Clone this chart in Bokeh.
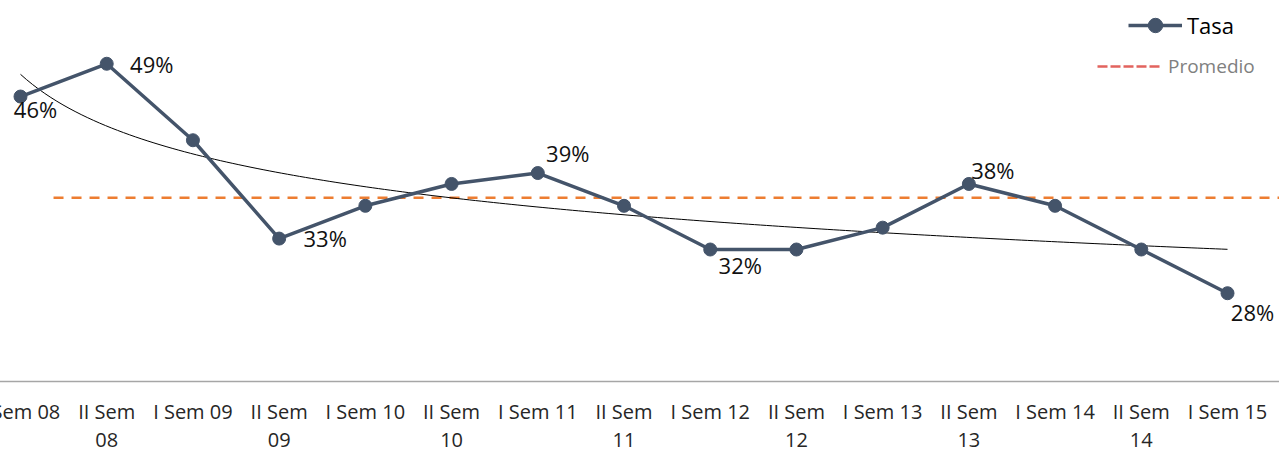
import numpy as np
from bokeh.plotting import figure
from bokeh.core.properties import value
from bokeh.models import (Range1d, FixedTicker, Legend, LegendItem,
                          ColumnDataSource, LabelSet)
from bokeh.embed import file_html
from bokeh.resources import INLINE

# ---------------- data ----------------
categories = ["I Sem 08", "II Sem 08", "I Sem 09", "II Sem 09", "I Sem 10",
              "II Sem 10", "I Sem 11", "II Sem 11", "I Sem 12", "II Sem 12",
              "I Sem 13", "II Sem 13", "I Sem 14", "II Sem 14", "I Sem 15"]
tick_labels = ["I Sem 08", "II Sem\n08", "I Sem 09", "II Sem\n09", "I Sem 10",
               "II Sem\n10", "I Sem 11", "II Sem\n11", "I Sem 12", "II Sem\n12",
               "I Sem 13", "II Sem\n13", "I Sem 14", "II Sem\n14", "I Sem 15"]
tasa = [46, 49, 42, 33, 36, 38, 39, 36, 32, 32, 34, 38, 36, 32, 28]
data_labels = ["46%", "49%", "", "33%", "", "", "39%", "", "32%", "", "",
               "38%", "", "", "28%"]

# label placement (screen px, right / up)
label_dx = [15, 45, 0, 46, 0, 0, 30, 0, 30, 0, 0, 24, 0, 0, 25]
label_dy = [-12, 0, 0, 1, 0, 0, 20, 0, -15, 0, 0, 14, 0, 0, -19]

FONT = "Open Sans"
TASA_COLOR = "#44546A"
PROM_COLOR = "#ED7D31"

x = list(range(1, len(tasa) + 1))
promedio = float(np.mean(tasa))

# power trend line (least squares on ln(x), ln(y)), as the original chart
b, lnc = np.polyfit(np.log(x), np.log(tasa), 1)
xt = np.linspace(1, len(tasa), 200)
yt = np.exp(lnc) * xt ** b

LEFT_EXTRA = 40  # canvas extends beyond the left page edge (clipped label)
x_start, x_end = 0.304, 15.603
p = figure(frame_width=1279 + LEFT_EXTRA, frame_height=381,
           x_range=Range1d(x_start, x_end), y_range=Range1d(19.92, 54.79),
           output_backend="svg", toolbar_location=None,
           y_axis_location=None, min_border_left=0, min_border_right=0,
           min_border_top=0, min_border_bottom=0,
           outline_line_color=None, background_fill_color="white",
           border_fill_color="white")
p.styles = {"margin-left": f"-{LEFT_EXTRA}px"}
p.grid.visible = False

# average line
p.line([1.383, x_end], [promedio, promedio], line_color=PROM_COLOR,
       line_width=2.5, line_dash="10 8")
# legend-only glyph for the average (its legend swatch is drawn differently)
prom_leg = p.line(x=[float("nan")], y=[float("nan")], line_color="#E2635E",
                  line_width=2.5, line_dash="10 3")

# trend line
p.line(xt, yt, line_color="black", line_width=1)

src = ColumnDataSource(dict(x=x, y=tasa, lab=data_labels,
                            dx=label_dx, dy=label_dy))
line_r = p.line("x", "y", source=src, line_color=TASA_COLOR, line_width=3.5)
sc_r = p.scatter("x", "y", source=src, size=13, fill_color=TASA_COLOR,
                 line_color=TASA_COLOR)

labels = LabelSet(x="x", y="y", text="lab", source=src, x_offset="dx",
                  y_offset="dy", text_align="center", text_baseline="middle",
                  text_font=value(FONT), text_font_size="22px",
                  text_color="#111111")
p.add_layout(labels)

# x axis
ax = p.xaxis[0]
ax.ticker = FixedTicker(ticks=x)
ax.major_label_overrides = {i: t for i, t in zip(x, tick_labels)}
ax.axis_line_color = "#a6a6a6"
ax.axis_line_width = 1.5
ax.major_tick_line_color = None
ax.minor_tick_line_color = None
ax.major_label_standoff = 10
ax.major_label_text_font = FONT
ax.major_label_text_font_size = "20px"
ax.major_label_text_line_height = 1.06
ax.major_label_text_color = "#262626"

# legends
leg1 = Legend(items=[LegendItem(label="Tasa", renderers=[line_r, sc_r])],
              location=(1128 + LEFT_EXTRA, 338), glyph_width=54,
              glyph_height=36, label_height=36, label_standoff=5, padding=0,
              margin=0, spacing=0, border_line_alpha=0,
              background_fill_alpha=0, label_text_font=FONT,
              label_text_font_size="22px", label_text_color="#000000")
leg2 = Legend(items=[LegendItem(label="Promedio", renderers=[prom_leg])],
              location=(1097 + LEFT_EXTRA, 302), glyph_width=65,
              glyph_height=24, label_height=24, label_standoff=6, padding=0,
              margin=0, spacing=0, border_line_alpha=0,
              background_fill_alpha=0, label_text_font=FONT,
              label_text_font_size="19px", label_text_color="#808080")
p.add_layout(leg1)
p.add_layout(leg2)

open("out.html", "w").write(file_html(p, INLINE))
